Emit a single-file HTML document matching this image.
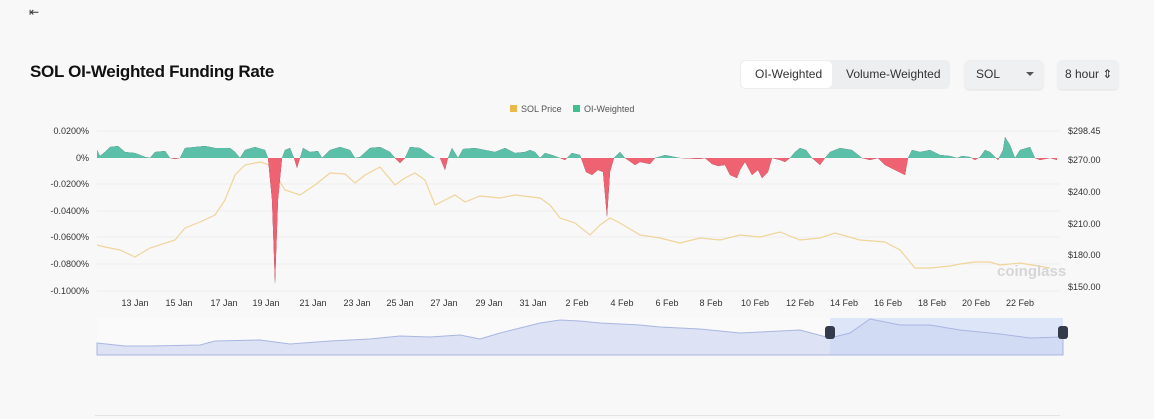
<!DOCTYPE html>
<html><head><meta charset="utf-8"><style>
body{margin:0;width:1154px;height:419px;background:#f8f8f8;font-family:"Liberation Sans",sans-serif;overflow:hidden;position:relative}
.t{position:absolute;left:30px;top:62px;font-size:17px;font-weight:bold;color:#111;letter-spacing:-0.3px}
.grp{position:absolute;left:740px;top:60px;width:210px;height:29px;background:#eceef0;border-radius:5px}
.b{position:absolute;font-size:12px;color:#333;top:67px}
.box{position:absolute;top:60px;height:29px;background:#eef0f2;border-radius:4px;box-shadow:0 1px 2px rgba(0,0,0,.1)}
</style></head><body>
<div style="position:absolute;left:29px;top:5px;font-size:12px;color:#333">&#8676;</div>
<div class="t">SOL OI-Weighted Funding Rate</div>
<div class="grp"></div>
<div style="position:absolute;left:741px;top:61px;width:91px;height:27px;background:#fff;border-radius:5px"></div>
<div class="b" style="left:755px">OI-Weighted</div>
<div class="b" style="left:846px">Volume-Weighted</div>
<div class="box" style="left:965px;width:78px"></div>
<div class="b" style="left:976px">SOL</div>
<div style="position:absolute;left:1026px;top:72px;border:4px solid transparent;border-top:4px solid #555"></div>
<div class="box" style="left:1058px;width:60px"></div>
<div class="b" style="left:1065px">8 hour &#8661;</div>
<svg width="1154" height="419" style="position:absolute;left:0;top:0" font-family="Liberation Sans,sans-serif">
<defs>
<clipPath id="up"><rect x="0" y="0" width="1154" height="158"/></clipPath>
<clipPath id="dn"><rect x="0" y="158" width="1154" height="200"/></clipPath>
</defs>
<rect x="510" y="105" width="7" height="7" fill="#eab94b"/><text x="521" y="112" font-size="9" fill="#555">SOL Price</text>
<rect x="573" y="105" width="7" height="7" fill="#3fc08e"/><text x="584" y="112" font-size="9" fill="#555">OI-Weighted</text>
<g stroke="#eeeeee" stroke-width="1">
<line x1="97" y1="131" x2="1060" y2="131"/><line x1="97" y1="184" x2="1060" y2="184"/><line x1="97" y1="211" x2="1060" y2="211"/><line x1="97" y1="237" x2="1060" y2="237"/><line x1="97" y1="264" x2="1060" y2="264"/><line x1="97" y1="291" x2="1060" y2="291"/>
</g>
<g font-size="9" fill="#333" text-anchor="end">
<text x="89" y="134">0.0200%</text><text x="89" y="161">0%</text><text x="89" y="187">-0.0200%</text><text x="89" y="214">-0.0400%</text><text x="89" y="240">-0.0600%</text><text x="89" y="267">-0.0800%</text><text x="89" y="294">-0.1000%</text>
</g>
<g font-size="9" fill="#333">
<text x="1068" y="134">$298.45</text><text x="1068" y="163">$270.00</text><text x="1068" y="195">$240.00</text><text x="1068" y="227">$210.00</text><text x="1068" y="258">$180.00</text><text x="1068" y="290">$150.00</text>
</g>
<g font-size="9" fill="#333" text-anchor="middle">
<text x="135" y="306">13 Jan</text><text x="179" y="306">15 Jan</text><text x="224" y="306">17 Jan</text><text x="266" y="306">19 Jan</text><text x="313" y="306">21 Jan</text><text x="357" y="306">23 Jan</text><text x="400" y="306">25 Jan</text><text x="444" y="306">27 Jan</text><text x="489" y="306">29 Jan</text><text x="533" y="306">31 Jan</text><text x="577" y="306">2 Feb</text><text x="622" y="306">4 Feb</text><text x="667" y="306">6 Feb</text><text x="711" y="306">8 Feb</text><text x="755" y="306">10 Feb</text><text x="800" y="306">12 Feb</text><text x="844" y="306">14 Feb</text><text x="888" y="306">16 Feb</text><text x="932" y="306">18 Feb</text><text x="976" y="306">20 Feb</text><text x="1020" y="306">22 Feb</text>
</g>
<polyline fill="none" stroke="#f0d49a" stroke-width="1.2" points="97,245 105,247 120,250 135,257 150,248 175,240 185,228 200,222 215,215 225,200 235,175 245,165 260,162 270,165 285,190 300,195 315,185 330,173 345,174 355,183 365,175 380,167 395,185 405,178 415,173 425,180 435,205 445,200 455,195 465,202 480,196 500,198 515,195 540,198 550,205 560,218 575,223 590,235 600,225 610,218 620,223 640,235 660,238 680,243 700,238 720,240 740,235 760,237 780,232 800,240 820,238 835,233 860,240 885,242 900,250 915,268 930,268 950,266 960,264 975,262 990,262 1000,265 1020,263 1050,268"/>
<g id="f">
<path id="fp" d="M97,158 L97,150 100,156 105,152 110,147 118,146 125,152 135,153 145,157 150,158 155,152 165,151 170,158 175,159 180,158 185,148 195,147 205,146 215,148 230,148 235,152 240,158 245,150 255,147 265,150 268,158 272,200 275,284 278,200 282,158 285,150 290,148 294,158 297,168 300,158 303,148 310,152 318,151 322,158 330,150 340,147 350,150 355,158 360,157 370,148 380,147 390,152 395,158 400,163 405,158 410,147 420,148 430,155 435,158 440,158 445,170 448,158 452,148 458,158 463,149 475,148 485,150 495,152 505,148 515,153 525,152 530,150 535,152 540,158 545,153 552,155 560,158 565,160 572,153 580,155 586,172 592,175 598,170 603,172 607,217 610,172 614,158 620,152 625,158 635,165 640,162 650,164 655,158 665,155 680,158 700,159 705,158 712,164 718,166 725,165 730,175 737,178 740,170 745,162 752,175 758,170 762,178 768,172 772,158 780,160 785,162 790,158 795,152 800,148 806,150 812,158 820,165 825,158 830,152 840,148 852,150 862,158 870,160 878,158 885,165 895,170 905,175 908,158 912,150 920,152 930,150 940,155 950,156 957,158 962,156 970,157 975,160 980,157 985,150 990,152 998,160 1003,150 1005,137 1010,145 1015,158 1020,150 1030,147 1035,158 1040,160 1050,158 1057,160 L1057,158 Z" stroke-linejoin="round"/>
</g>
<use href="#fp" fill="#5cbfa8" clip-path="url(#up)"/>
<use href="#fp" fill="#ef6272" clip-path="url(#dn)"/>
<text x="997" y="276" font-size="15" font-weight="bold" fill="#d6d6d6">coinglass</text>
<rect x="97" y="318" width="966" height="37" fill="#fafafa"/>
<rect x="830" y="318" width="233" height="37" fill="#dde5f8"/>
<path d="M97,343 125,346 150,346 200,345 215,341 260,340 290,344 330,341 370,339 400,336 430,337 460,335 480,339 500,333 520,328 540,323 560,320 580,321 600,323 640,325 660,327 700,329 740,333 800,330 830,338 850,333 870,319 900,325 930,325 960,330 1000,334 1030,338 1063,337 L1063,355 97,355Z" fill="#c9d3f0" fill-opacity="0.6" stroke="#a9b6e0" stroke-width="1"/>
<rect x="825" y="326" width="10" height="13" rx="3" fill="#333a4a"/>
<rect x="1058" y="326" width="10" height="13" rx="3" fill="#333a4a"/>
<line x1="95" y1="415.5" x2="1060" y2="415.5" stroke="#e3e3e3"/>
</svg>
</body></html>
